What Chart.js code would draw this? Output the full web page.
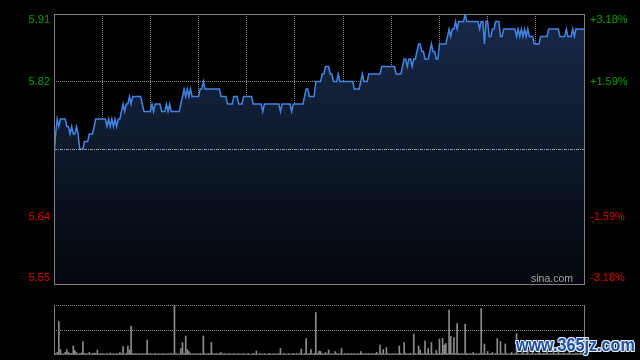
<!DOCTYPE html>
<html><head><meta charset="utf-8">
<script src="https://cdn.jsdelivr.net/npm/chart.js@4/dist/chart.umd.min.js"></script>
<style>
html,body{margin:0;padding:0;background:#000;width:640px;height:360px;overflow:hidden;}
#p{position:absolute;left:0;top:0;width:640px;height:300px;}
#v{position:absolute;left:0;top:300px;width:640px;height:60px;}
#sina{position:absolute;right:67px;top:273px;font:10.5px "Liberation Sans",Arial,sans-serif;color:#a8a8a8;line-height:1;white-space:nowrap;}
#wm{position:absolute;left:516px;top:335px;font:bold 19px "Liberation Sans",Arial,sans-serif;color:#1f4fa0;line-height:1;white-space:nowrap;transform:scaleX(0.85);transform-origin:0 0;
text-shadow:1px 1px 0 #e8eef8,-1px -1px 0 #e8eef8,1px -1px 0 #e8eef8,-1px 1px 0 #e8eef8,0 1px 0 #e8eef8,0 -1px 0 #e8eef8,1px 0 0 #e8eef8,-1px 0 0 #e8eef8;}
</style></head>
<body>
<div id="p"><canvas id="pc"></canvas></div>
<div id="v"><canvas id="vc"></canvas></div>
<div id="sina">sina.com</div>
<div id="wm">www.365jz.com</div>
<script>
// ---- data ----
const prevClose = 5.73;
const priceTicks = [5.55, 5.64, 5.73, 5.82, 5.91];
const leftLabels = ['5.55', '5.64', '', '5.82', '5.91'];
const rightLabels = ['-3.18%', '-1.59%', '', '+1.59%', '+3.18%'];
const sessionMinutes = 330; // 09:30-12:00, 13:00-16:00
const price = [
5.72,5.75,5.77,5.76,5.77,5.77,5.77,5.77,5.76,5.76,
5.75,5.76,5.75,5.75,5.76,5.75,5.73,5.73,5.73,5.74,
5.74,5.74,5.75,5.75,5.75,5.76,5.77,5.77,5.77,5.77,
5.77,5.77,5.77,5.76,5.77,5.76,5.77,5.76,5.77,5.76,
5.77,5.77,5.78,5.79,5.78,5.79,5.79,5.80,5.79,5.80,
5.80,5.80,5.80,5.80,5.80,5.79,5.78,5.78,5.78,5.78,
5.78,5.79,5.78,5.79,5.79,5.79,5.79,5.78,5.78,5.78,
5.79,5.78,5.79,5.78,5.78,5.78,5.78,5.78,5.78,5.79,
5.80,5.81,5.80,5.81,5.80,5.81,5.80,5.80,5.80,5.80,
5.80,5.81,5.81,5.82,5.81,5.81,5.81,5.81,5.81,5.81,
5.81,5.81,5.81,5.81,5.80,5.80,5.80,5.80,5.79,5.79,
5.79,5.79,5.80,5.80,5.80,5.79,5.79,5.79,5.80,5.80,
5.80,5.80,5.80,5.80,5.79,5.79,5.79,5.79,5.79,5.79,
5.78,5.79,5.79,5.79,5.79,5.79,5.79,5.79,5.79,5.79,
5.79,5.78,5.79,5.79,5.79,5.79,5.79,5.79,5.78,5.79,
5.79,5.79,5.79,5.79,5.79,5.79,5.80,5.81,5.81,5.80,
5.80,5.80,5.80,5.82,5.82,5.82,5.82,5.83,5.83,5.84,
5.84,5.84,5.83,5.83,5.82,5.82,5.82,5.83,5.82,5.82,
5.82,5.82,5.82,5.82,5.82,5.82,5.82,5.81,5.81,5.81,
5.81,5.82,5.83,5.82,5.82,5.82,5.83,5.83,5.83,5.83,
5.83,5.83,5.83,5.83,5.84,5.84,5.84,5.84,5.84,5.84,
5.84,5.84,5.84,5.83,5.83,5.83,5.83,5.84,5.85,5.85,
5.84,5.85,5.85,5.84,5.85,5.85,5.86,5.87,5.87,5.86,
5.86,5.85,5.85,5.85,5.86,5.87,5.86,5.86,5.85,5.85,
5.87,5.87,5.87,5.87,5.87,5.88,5.89,5.88,5.89,5.89,
5.90,5.89,5.90,5.90,5.90,5.90,5.91,5.90,5.90,5.90,
5.90,5.90,5.90,5.90,5.90,5.89,5.90,5.90,5.87,5.90,
5.90,5.88,5.88,5.89,5.89,5.90,5.90,5.90,5.88,5.88,
5.89,5.89,5.89,5.89,5.89,5.89,5.89,5.89,5.88,5.89,
5.88,5.89,5.88,5.89,5.88,5.89,5.88,5.88,5.88,5.87,
5.87,5.87,5.87,5.88,5.88,5.88,5.88,5.88,5.89,5.89,
5.89,5.89,5.89,5.89,5.89,5.88,5.88,5.88,5.88,5.89,
5.88,5.88,5.88,5.89,5.88,5.89,5.89,5.89,5.89,5.89,
5.89
];
const volume = [
4,3,5,67,11,3,2,5,11,5,
3,3,18,9,5,2,3,4,27,3,
3,2,5,2,3,4,3,10,2,3,
3,2,2,3,2,4,2,3,2,3,
2,5,3,17,2,3,18,10,58,3,
2,3,2,3,2,3,2,3,30,2,
3,2,2,3,2,3,2,2,3,2,
2,3,2,3,2,100,3,2,2,13,
25,3,38,11,7,3,2,3,2,3,
2,3,2,38,3,2,3,2,25,3,
2,3,2,3,5,2,3,2,2,3,
2,2,3,2,2,3,2,2,3,2,
2,3,2,2,3,2,8,2,3,2,
2,3,2,2,3,2,2,3,2,2,
3,13,2,3,2,2,3,2,2,3,
2,3,2,3,12,2,3,33,2,3,
11,2,3,85,3,8,7,3,2,5,
3,10,2,3,2,7,3,2,3,13,
2,3,2,3,2,3,2,3,2,3,
2,7,3,2,3,2,3,2,3,2,
3,5,2,20,3,11,2,15,3,2,
2,3,2,3,2,18,3,2,25,3,
2,3,3,2,42,3,2,18,10,3,
2,28,3,13,2,25,3,2,9,3,
32,3,33,20,23,3,90,37,3,35,
3,63,3,2,3,2,62,3,2,3,
2,5,2,3,2,3,93,3,22,2,
7,2,3,5,2,3,33,2,27,3,
2,22,3,2,3,5,2,3,43,3,
2,3,8,2,3,10,2,3,6,2,
3,2,12,3,2,4,3,8,2,3,
2,5,3,2,9,3,2,4,3,2,
3,6,2,3,2,4,3,2,5,3,
4
];

// ---- styles ----
const GREEN = '#00a000';
const RED = '#dd0000';
const GRID = '#8a8a8a';
const FRAME = '#808080';
const FONT = '11px "Liberation Sans", Arial, sans-serif';

const pricePts = price.map((v, i) => ({x: i, y: v}));
const volPts = volume.map((v, i) => ({x: i, y: v}));
const volMax = Math.max(...volume);

const priceDeco = {
  id: 'priceDeco',
  afterDraw(chart) {
    const {ctx, chartArea: a, scales: {y}} = chart;
    ctx.save();
    // previous close dash-dot line
    const pc = Math.round(y.getPixelForValue(prevClose)) + 0.5;
    ctx.strokeStyle = '#9a9a9a';
    ctx.lineWidth = 1;
    ctx.setLineDash([3, 1, 1, 1]);
    ctx.beginPath(); ctx.moveTo(a.left, pc); ctx.lineTo(a.right, pc); ctx.stroke();
    ctx.setLineDash([]);
    // frame
    ctx.strokeStyle = FRAME;
    ctx.strokeRect(a.left + 0.5, a.top + 0.5, a.right - a.left, a.bottom - a.top);
    // labels
    ctx.font = FONT;
    ctx.textBaseline = 'middle';
    priceTicks.forEach((v, i) => {
      let py = y.getPixelForValue(v);
      if (i === priceTicks.length - 1) py += 6;
      else if (i === 0) py -= 6;
      ctx.fillStyle = v > prevClose ? GREEN : RED;
      ctx.textAlign = 'right';
      ctx.fillText(leftLabels[i], a.left - 4, py);
      ctx.textAlign = 'left';
      ctx.fillText(rightLabels[i], a.right + 6, py);
    });
    ctx.restore();
  }
};

new Chart(document.getElementById('pc'), {
  type: 'line',
  data: {
    datasets: [{
      data: pricePts,
      borderColor: '#4285e6',
      borderWidth: 1.5,
      pointRadius: 0,
      tension: 0,
      fill: 'start',
      backgroundColor: (c) => {
        const a = c.chart.chartArea;
        if (!a) return 'rgba(0,0,0,0)';
        const g = c.chart.ctx.createLinearGradient(0, a.top, 0, a.bottom);
        g.addColorStop(0, '#172a4a');
        g.addColorStop(1, '#04070c');
        return g;
      }
    }]
  },
  options: {
    responsive: true, maintainAspectRatio: false, animation: false, devicePixelRatio: 1,
    layout: {padding: {top: 14, bottom: 16, left: 0, right: 0}},
    plugins: {legend: {display: false}, tooltip: {enabled: false}},
    scales: {
      x: {
        type: 'linear', min: 0, max: sessionMinutes, z: 1,
        ticks: {display: false, stepSize: 30},
        grid: {drawTicks: false, color: (c) => (c.index === 0 || c.tick.value >= sessionMinutes) ? 'rgba(0,0,0,0)' : GRID},
        border: {display: false, dash: [1, 1]},
        afterFit(s) { s.height = 0; }
      },
      y: {
        position: 'left', min: priceTicks[0], max: priceTicks[priceTicks.length - 1], z: 1,
        afterBuildTicks(s) { s.ticks = priceTicks.map(v => ({value: v})); },
        ticks: {display: false},
        grid: {drawTicks: false, color: (c) => (c.index === 1 || c.index === 3) ? GRID : 'rgba(0,0,0,0)'},
        border: {display: false, dash: [1, 1]},
        afterFit(s) { s.width = 54; }
      },
      y2: {
        position: 'right', min: priceTicks[0], max: priceTicks[priceTicks.length - 1],
        ticks: {display: false},
        grid: {display: false},
        border: {display: false},
        afterFit(s) { s.width = 56; }
      }
    }
  },
  plugins: [priceDeco]
});

const volDeco = {
  id: 'volDeco',
  afterDraw(chart) {
    const {ctx, chartArea: a} = chart;
    ctx.save();
    ctx.strokeStyle = FRAME;
    ctx.lineWidth = 1;
    ctx.beginPath();
    ctx.moveTo(a.left + 0.5, a.top); ctx.lineTo(a.left + 0.5, a.bottom);
    ctx.moveTo(a.right + 0.5, a.top); ctx.lineTo(a.right + 0.5, a.bottom);
    ctx.stroke();
    ctx.restore();
  }
};

new Chart(document.getElementById('vc'), {
  type: 'bar',
  data: {
    datasets: [{
      data: volPts,
      backgroundColor: '#8c8c8c',
      borderWidth: 0,
      barThickness: 1
    }]
  },
  options: {
    responsive: true, maintainAspectRatio: false, animation: false, devicePixelRatio: 1,
    layout: {padding: {top: 5, bottom: 5, left: 54, right: 56}},
    plugins: {legend: {display: false}, tooltip: {enabled: false}},
    scales: {
      x: {type: 'linear', min: 0, max: sessionMinutes, display: false, offset: false},
      y: {
        min: 0, max: volMax,
        afterBuildTicks(s) { s.ticks = [0, volMax / 2, volMax].map(v => ({value: v})); },
        ticks: {display: false},
        grid: {drawTicks: false, color: (c) => c.index === 0 ? 'rgba(0,0,0,0)' : GRID},
        border: {display: false, dash: [1, 1]},
        afterFit(s) { s.width = 0; }
      }
    }
  },
  plugins: [volDeco]
});
</script>
</body></html>
